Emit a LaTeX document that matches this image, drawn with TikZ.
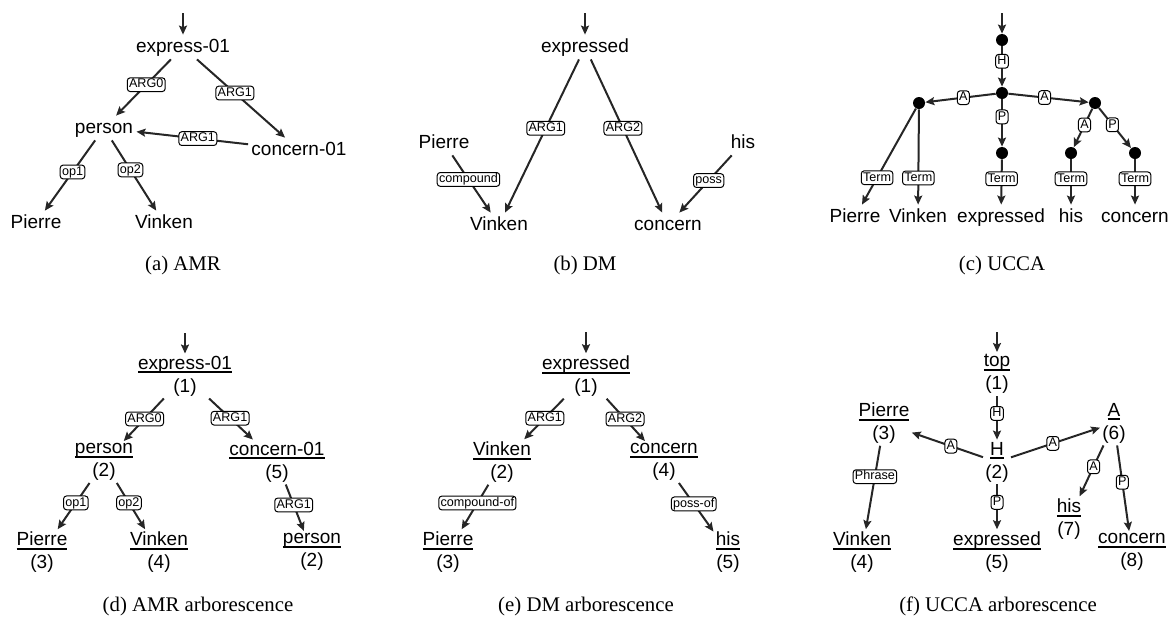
\documentclass[tikz,border=0pt]{standalone}
\usepackage{fontspec}
\setmainfont{Liberation Serif}
\setsansfont{Liberation Sans}
\usetikzlibrary{arrows.meta}

\newcommand{\ulw}[1]{\leavevmode\vtop{\hbox{\raisebox{0pt}[\height][0pt]{#1}}\kern1.1pt\hrule height 1pt}}

\begin{document}
\begin{tikzpicture}[x=0.5pt, y=-0.5pt,
		word/.style={font=\sffamily\fontsize{9.5}{11.5}\selectfont, text height=7pt, text depth=2pt, inner sep=1.5pt},
		twoline/.style={font=\sffamily\fontsize{9.5}{11.5}\selectfont, align=center, inner sep=1pt},
		lbl/.style={draw=black, fill=white, rounded corners=1.5pt, line width=0.5pt, font=\sffamily\fontsize{6.3}{6.3}\selectfont, text height=4.5pt, text depth=1.2pt, inner xsep=0.9pt, inner ysep=0.6pt, pos=0.45},
		ndot/.style={circle, fill=black, minimum size=6pt, inner sep=0pt},
		capt/.style={font=\fontsize{10.4}{12}\selectfont},
		rel/.style={-{Stealth[length=4.5pt, width=4pt, inset=0.8pt]}, line width=1pt, draw=black!85}]
		
		\useasboundingbox (0,0) rectangle (1170,622);
		
		% (a) AMR
		\coordinate (a-in) at (183,13);
		\node[word] (a-ex) at (183,47) {express-01};
		\node[word] (a-per) at (104,128) {person};
		\node[word] (a-con) at (299,150) {concern-01};
		\node[word] (a-pie) at (36,223) {Pierre};
		\node[word] (a-vin) at (164,223) {Vinken};
		\draw[rel] (a-in) -- (a-ex);
		\draw[rel] (a-ex) -- node[lbl] {ARG0} (a-per);
		\draw[rel] (a-ex) -- node[lbl, pos=0.43] {ARG1} (a-con);
		\draw[rel] (a-con) -- node[lbl] {ARG1} (a-per);
		\draw[rel] (a-per) -- node[lbl] {op1} (a-pie);
		\draw[rel] (a-per) -- node[lbl, pos=0.42] {op2} (a-vin);
		\node[capt] (a-cap) at (183,265) {(a) AMR};
		
		% (b) DM
		\coordinate (b-in) at (585,13);
		\node[word] (b-ex) at (585,47) {expressed};
		\node[word] (b-pie) at (444,143) {Pierre};
		\node[word] (b-his) at (743,143) {his};
		\node[word] (b-vin) at (499,225) {Vinken};
		\node[word] (b-con) at (668,225) {concern};
		\draw[rel] (b-in) -- (b-ex);
		\draw[rel] (b-ex) -- node[lbl] {ARG1} (b-vin);
		\draw[rel] (b-ex) -- node[lbl] {ARG2} (b-con);
		\draw[rel] (b-pie) -- node[lbl, pos=0.42] {compound} (b-vin);
		\draw[rel] (b-his) -- node[lbl, pos=0.44] {poss} (b-con);
		\node[capt] (b-cap) at (585,265) {(b) DM};
		
		% (c) UCCA
		\coordinate (c-in) at (1002,13);
		\node[ndot] (c-d1) at (1002,40) {};
		\node[ndot] (c-d2) at (1002,93) {};
		\node[ndot] (c-dl) at (919,103) {};
		\node[ndot] (c-dr) at (1095,103) {};
		\node[ndot] (c-d3) at (1002,153) {};
		\node[ndot] (c-dh) at (1071,153) {};
		\node[ndot] (c-dc) at (1135,153) {};
		\node[word] (c-pie) at (855,217) {Pierre};
		\node[word] (c-vin) at (918,217) {Vinken};
		\node[word] (c-ex) at (1001,217) {expressed};
		\node[word] (c-his) at (1071,217) {his};
		\node[word] (c-con) at (1135,217) {concern};
		\draw[rel] (c-in) -- (c-d1);
		\draw[rel] (c-d1) -- node[lbl, pos=0.37] {H} (c-d2);
		\draw[rel] (c-d2) -- node[lbl, pos=0.46] {A} (c-dl);
		\draw[rel] (c-d2) -- node[lbl] {A} (c-dr);
		\draw[rel] (c-d2) -- node[lbl, pos=0.37] {P} (c-d3);
		\draw[rel] (c-dr) -- node[lbl, pos=0.42] {A} (c-dh);
		\draw[rel] (c-dr) -- node[lbl, pos=0.42] {P} (c-dc);
		\draw[rel] (c-dl) -- node[lbl, pos=0.72] {Term} (c-pie);
		\draw[rel] (c-dl) -- node[lbl, pos=0.72] {Term} (c-vin);
		\draw[rel] (c-d3) -- node[lbl, pos=0.43] {Term} (c-ex);
		\draw[rel] (c-dh) -- node[lbl, pos=0.43] {Term} (c-his);
		\draw[rel] (c-dc) -- node[lbl, pos=0.43] {Term} (c-con);
		\node[capt] (c-cap) at (1002,265) {(c) UCCA};
		
		% (d) AMR arborescence
		\coordinate (d-in) at (185,333);
		\node[twoline] (d-1) at (185,376) {\ulw{express-01}\\(1)};
		\node[twoline] (d-2) at (104,462) {\ulw{person}\\(2)};
		\node[twoline] (d-5) at (277,462) {\ulw{concern-01}\\(5)};
		\node[twoline] (d-3) at (42,552) {\ulw{Pierre}\\(3)};
		\node[twoline] (d-4) at (159,552) {\ulw{Vinken}\\(4)};
		\node[twoline] (d-2b) at (312,552) {\ulw{person}\\(2)};
		\draw[rel] (d-in) -- (d-1);
		\draw[rel] (d-1) -- node[lbl, pos=0.48] {ARG0} (d-2);
		\draw[rel] (d-1) -- node[lbl, pos=0.48] {ARG1} (d-5);
		\draw[rel] (d-2) -- node[lbl, pos=0.43] {op1} (d-3);
		\draw[rel] (d-2) -- node[lbl, pos=0.43] {op2} (d-4);
		\draw[rel] (d-5) -- node[lbl, pos=0.44] {ARG1} (d-2b);
		\node[capt] (d-cap) at (198,606) {(d) AMR arborescence};
		
		% (e) DM arborescence
		\coordinate (e-in) at (586,332);
		\node[twoline] (e-1) at (586,376) {\ulw{expressed}\\(1)};
		\node[twoline] (e-2) at (502,462) {\ulw{Vinken}\\(2)};
		\node[twoline] (e-4) at (664,462) {\ulw{concern}\\(4)};
		\node[twoline] (e-3) at (448,552) {\ulw{Pierre}\\(3)};
		\node[twoline] (e-5) at (728,552) {\ulw{his}\\(5)};
		\draw[rel] (e-in) -- (e-1);
		\draw[rel] (e-1) -- node[lbl, pos=0.48] {ARG1} (e-2);
		\draw[rel] (e-1) -- node[lbl, pos=0.48] {ARG2} (e-4);
		\draw[rel] (e-2) -- node[lbl, pos=0.41] {compound-of} (e-3);
		\draw[rel] (e-4) -- node[lbl, pos=0.43] {poss-of} (e-5);
		\node[capt] (e-cap) at (586,606) {(e) DM arborescence};
		
		% (f) UCCA arborescence
		\coordinate (f-in) at (997,332);
		\node[twoline] (f-1) at (997,374) {\ulw{top}\\(1)};
		\node[twoline] (f-2) at (997,462) {\ulw{H}\\(2)};
		\node[twoline] (f-3) at (884,423) {\ulw{Pierre}\\(3)};
		\node[twoline] (f-6) at (1114,423) {\ulw{A}\\(6)};
		\node[twoline] (f-4) at (862,552) {\ulw{Vinken}\\(4)};
		\node[twoline] (f-5) at (997,552) {\ulw{expressed}\\(5)};
		\node[twoline] (f-7) at (1069,519) {\ulw{his}\\(7)};
		\node[twoline] (f-8) at (1132,552) {\ulw{concern}\\(8)};
		\draw[rel] (f-in) -- (f-1);
		\draw[rel] (f-1) -- node[lbl, pos=0.4] {H} (f-2);
		\draw[rel] (f-2) -- node[lbl] {A} (f-3);
		\draw[rel] (f-2) -- node[lbl, pos=0.47] {A} (f-6);
		\draw[rel] (f-2) -- node[lbl, pos=0.4] {P} (f-5);
		\draw[rel] (f-3) -- node[lbl, pos=0.37] {Phrase} (f-4);
		\draw[rel] (f-6) -- node[lbl, pos=0.42] {A} (f-7);
		\draw[rel] (f-6) -- node[lbl, pos=0.43] {P} (f-8);
		\node[capt] (f-cap) at (998,606) {(f) UCCA arborescence};
		
	\end{tikzpicture}
\end{document}
